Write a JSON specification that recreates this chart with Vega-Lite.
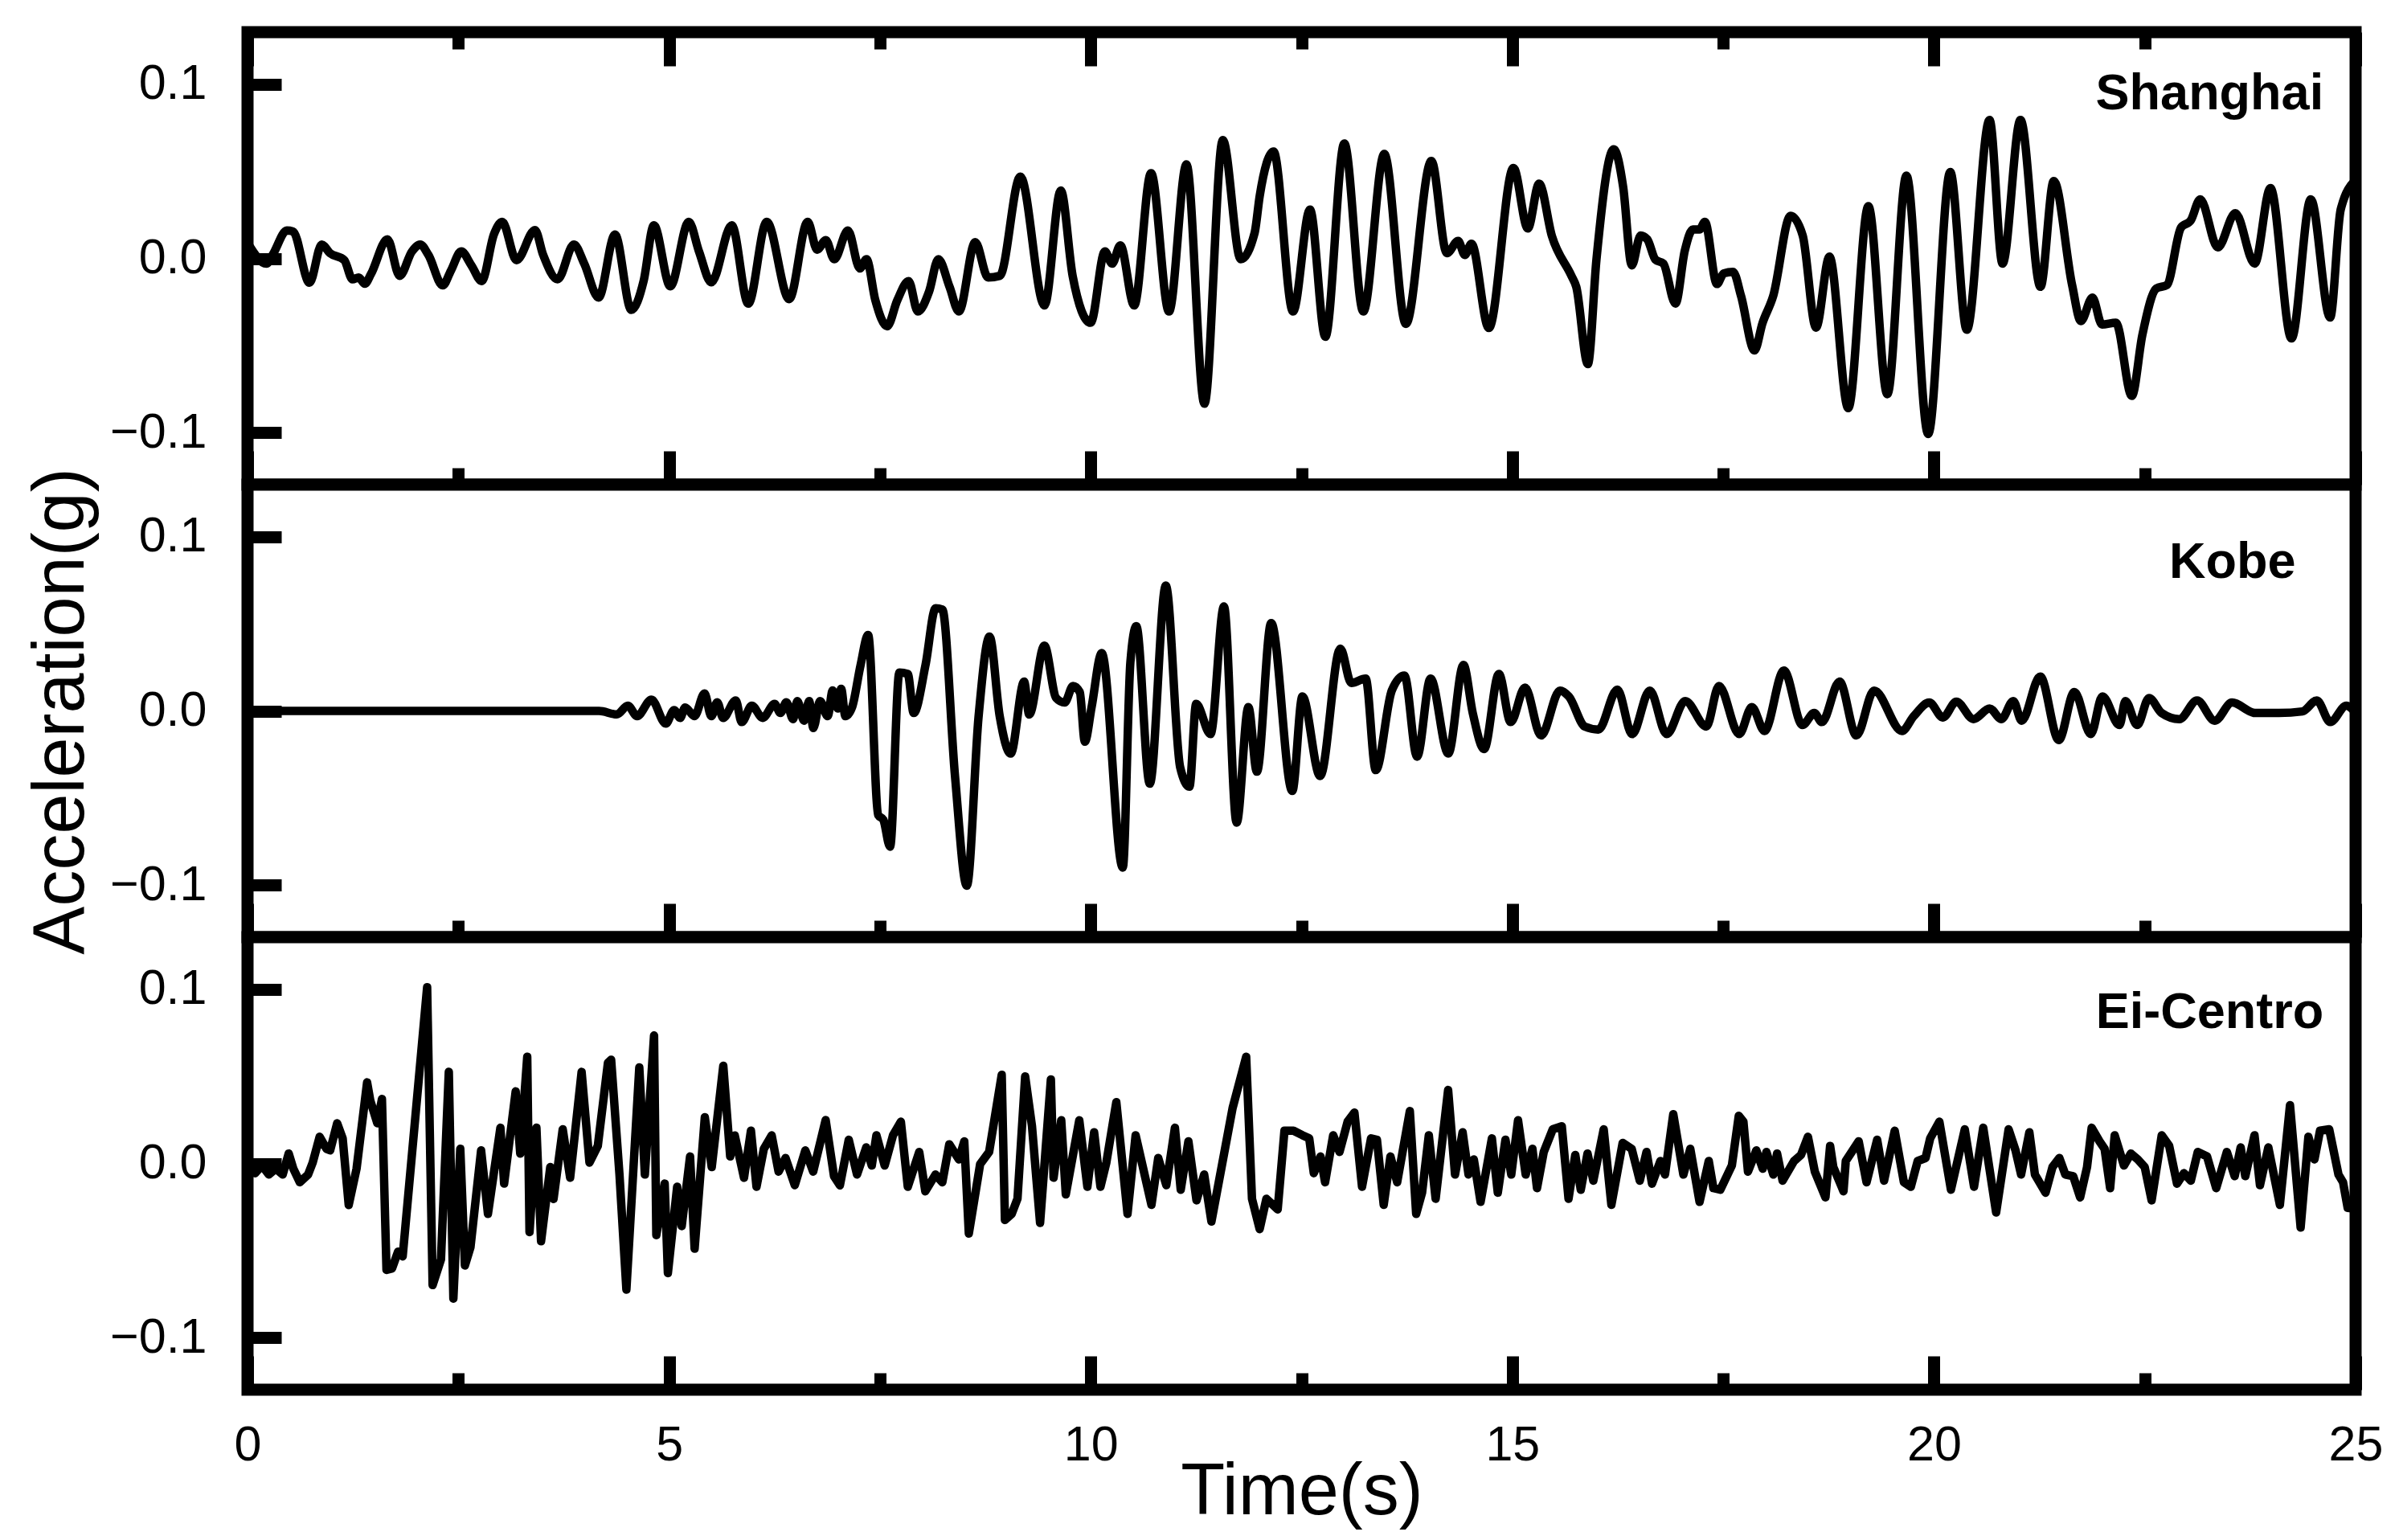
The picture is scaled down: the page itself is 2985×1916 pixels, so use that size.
{
"$schema": "https://vega.github.io/schema/vega-lite/v6.json",
"background": "white",
"padding": {"left": 24, "top": 25, "right": 5, "bottom": 5},
"spacing": 0,
"bounds": "flush",
"config": {
  "view": {"stroke": "black", "strokeWidth": 15, "fill": "white"},
  "font": "Liberation Sans",
  "concat": {"spacing": 0},
  "axis": {"domain": false, "grid": false, "tickColor": "black", "tickWidth": 15, "labelColor": "black", "titleColor": "black", "labelFont": "Liberation Sans", "titleFont": "Liberation Sans", "labelFontSize": 61, "titleFontSize": 90, "titleFontWeight": "normal", "labelFlush": false, "labelOverlap": false}
},
"datasets": {
"shanghai": [
{"t":0,"a":0.009},{"t":0.224,"a":-0.003},{"t":0.297,"a":0.002},{"t":0.467,"a":0.016},{"t":0.54,"a":0.0155},{"t":0.735,"a":-0.014},{"t":0.88,"a":0.008},{"t":0.978,"a":0.003},{"t":1.148,"a":-0.001},{"t":1.245,"a":-0.012},{"t":1.318,"a":-0.011},{"t":1.391,"a":-0.0146},{"t":1.464,"a":-0.009},{"t":1.659,"a":0.011},{"t":1.804,"a":-0.01},{"t":1.95,"a":0.004},{"t":2.048,"a":0.008},{"t":2.145,"a":0.002},{"t":2.315,"a":-0.0155},{"t":2.412,"a":-0.007},{"t":2.534,"a":0.004},{"t":2.655,"a":-0.004},{"t":2.777,"a":-0.013},{"t":2.923,"a":0.014},{"t":3.02,"a":0.021},{"t":3.19,"a":-0.001},{"t":3.409,"a":0.0163},{"t":3.506,"a":0.002},{"t":3.677,"a":-0.012},{"t":3.871,"a":0.008},{"t":3.993,"a":-0.003},{"t":4.163,"a":-0.0225},{"t":4.358,"a":0.0137},{"t":4.552,"a":-0.0296},{"t":4.698,"a":-0.0128},{"t":4.819,"a":0.019},{"t":5.014,"a":-0.016},{"t":5.233,"a":0.021},{"t":5.354,"a":0.004},{"t":5.5,"a":-0.0137},{"t":5.743,"a":0.019},{"t":5.938,"a":-0.026},{"t":6.157,"a":0.021},{"t":6.424,"a":-0.0234},{"t":6.643,"a":0.021},{"t":6.755,"a":0.005},{"t":6.858,"a":0.0105},{"t":6.958,"a":-0.0005},{"t":7.12,"a":0.016},{"t":7.262,"a":-0.0058},{"t":7.341,"a":-0.0005},{"t":7.445,"a":-0.024},{"t":7.585,"a":-0.039},{"t":7.706,"a":-0.024},{"t":7.84,"a":-0.013},{"t":7.949,"a":-0.0305},{"t":8.083,"a":-0.019},{"t":8.192,"a":-0.0005},{"t":8.326,"a":-0.0164},{"t":8.436,"a":-0.0305},{"t":8.63,"a":0.0093},{"t":8.782,"a":-0.011},{"t":8.922,"a":-0.01},{"t":9.165,"a":0.047},{"t":9.451,"a":-0.027},{"t":9.645,"a":0.039},{"t":9.785,"a":-0.01},{"t":9.998,"a":-0.037},{"t":10.168,"a":0.004},{"t":10.253,"a":-0.003},{"t":10.351,"a":0.0075},{"t":10.515,"a":-0.027},{"t":10.715,"a":0.049},{"t":10.928,"a":-0.0305},{"t":11.135,"a":0.054},{"t":11.348,"a":-0.0835},{"t":11.566,"a":0.068},{"t":11.779,"a":-0.0005},{"t":11.943,"a":0.0146},{"t":12.004,"a":0.036},{"t":12.168,"a":0.0614},{"t":12.399,"a":-0.0305},{"t":12.6,"a":0.028},{"t":12.782,"a":-0.045},{"t":13.007,"a":0.066},{"t":13.232,"a":-0.0305},{"t":13.481,"a":0.06},{"t":13.737,"a":-0.0376},{"t":14.04,"a":0.056},{"t":14.223,"a":0.003},{"t":14.357,"a":0.01},{"t":14.436,"a":0.002},{"t":14.515,"a":0.0084},{"t":14.721,"a":-0.04},{"t":15.013,"a":0.052},{"t":15.183,"a":0.0172},{"t":15.317,"a":0.043},{"t":15.469,"a":0.0128},{"t":15.7,"a":-0.01},{"t":15.758,"a":-0.0164},{"t":15.895,"a":-0.0607},{"t":15.997,"a":-0.0007},{"t":16.203,"a":0.0627},{"t":16.314,"a":0.041},{"t":16.416,"a":-0.004},{"t":16.521,"a":0.0132},{"t":16.6,"a":0.011},{"t":16.696,"a":-0.0007},{"t":16.791,"a":-0.003},{"t":16.934,"a":-0.026},{"t":17.045,"a":0.0045},{"t":17.14,"a":0.0166},{"t":17.22,"a":0.0166},{"t":17.283,"a":0.021},{"t":17.426,"a":-0.0147},{"t":17.506,"a":-0.0086},{"t":17.617,"a":-0.0077},{"t":17.712,"a":-0.0216},{"t":17.871,"a":-0.0529},{"t":17.966,"a":-0.0372},{"t":18.093,"a":-0.0216},{"t":18.3,"a":0.0245},{"t":18.443,"a":0.0132},{"t":18.601,"a":-0.0398},{"t":18.76,"a":0.001},{"t":18.983,"a":-0.086},{"t":19.222,"a":0.03},{"t":19.447,"a":-0.078},{"t":19.673,"a":0.0476},{"t":19.931,"a":-0.1009},{"t":20.193,"a":0.0496},{"t":20.389,"a":-0.041},{"t":20.659,"a":0.0795},{"t":20.813,"a":-0.003},{"t":21.026,"a":0.0795},{"t":21.263,"a":-0.0163},{"t":21.421,"a":0.0445},{"t":21.638,"a":-0.0153},{"t":21.742,"a":-0.036},{"t":21.879,"a":-0.0225},{"t":21.992,"a":-0.038},{"t":22.158,"a":-0.037},{"t":22.346,"a":-0.079},{"t":22.471,"a":-0.044},{"t":22.637,"a":-0.0173},{"t":22.762,"a":-0.0153},{"t":22.929,"a":0.0177},{"t":23.045,"a":0.0218},{"t":23.157,"a":0.034},{"t":23.366,"a":0.0063},{"t":23.574,"a":0.026},{"t":23.803,"a":-0.003},{"t":23.99,"a":0.0404},{"t":24.24,"a":-0.046},{"t":24.469,"a":0.034},{"t":24.698,"a":-0.034},{"t":24.823,"a":0.028},{"t":25,"a":0.045}
],
"kobe": [
{"t":0,"a":0},{"t":4.17,"a":0},{"t":4.38,"a":-0.002},{"t":4.51,"a":0.003},{"t":4.62,"a":-0.003},{"t":4.79,"a":0.0065},{"t":4.96,"a":-0.0073},{"t":5.06,"a":0.0005},{"t":5.13,"a":-0.004},{"t":5.19,"a":0.002},{"t":5.3,"a":-0.003},{"t":5.42,"a":0.01},{"t":5.5,"a":-0.003},{"t":5.57,"a":0.005},{"t":5.64,"a":-0.004},{"t":5.79,"a":0.006},{"t":5.86,"a":-0.0064},{"t":5.98,"a":0.003},{"t":6.11,"a":-0.004},{"t":6.25,"a":0.004},{"t":6.32,"a":-0.0012},{"t":6.39,"a":0.005},{"t":6.47,"a":-0.0047},{"t":6.52,"a":0.0057},{"t":6.6,"a":-0.0056},{"t":6.66,"a":0.0057},{"t":6.71,"a":-0.0098},{"t":6.79,"a":0.0057},{"t":6.88,"a":-0.003},{"t":6.94,"a":0.0118},{"t":7.0,"a":0.0014},{"t":7.04,"a":0.0127},{"t":7.09,"a":-0.003},{"t":7.17,"a":0.0022},{"t":7.27,"a":0.0263},{"t":7.36,"a":0.0436},{"t":7.48,"a":-0.0599},{"t":7.54,"a":-0.0625},{"t":7.62,"a":-0.078},{"t":7.73,"a":0.022},{"t":7.83,"a":0.0212},{"t":7.9,"a":-0.0012},{"t":8.04,"a":0.0263},{"t":8.16,"a":0.059},{"t":8.24,"a":0.0582},{"t":8.39,"a":-0.0374},{"t":8.53,"a":-0.1004},{"t":8.67,"a":-0.003},{"t":8.8,"a":0.0427},{"t":8.92,"a":-0.003},{"t":9.05,"a":-0.0245},{"t":9.21,"a":0.0168},{"t":9.27,"a":-0.0021},{"t":9.45,"a":0.0375},{"t":9.59,"a":0.0074},{"t":9.69,"a":0.0048},{"t":9.79,"a":0.0143},{"t":9.87,"a":0.0108},{"t":9.93,"a":-0.0177},{"t":10.01,"a":0.0022},{"t":10.13,"a":0.0332},{"t":10.38,"a":-0.09},{"t":10.47,"a":0.028},{"t":10.54,"a":0.0487},{"t":10.7,"a":-0.0418},{"t":10.89,"a":0.072},{"t":11.06,"a":-0.0323},{"t":11.17,"a":-0.0435},{"t":11.25,"a":0.004},{"t":11.42,"a":-0.0133},{"t":11.58,"a":0.06},{"t":11.73,"a":-0.0642},{"t":11.87,"a":0.0022},{"t":11.97,"a":-0.0349},{"t":12.14,"a":0.0505},{"t":12.39,"a":-0.046},{"t":12.51,"a":0.0083},{"t":12.72,"a":-0.0374},{"t":12.96,"a":0.0358},{"t":13.09,"a":0.016},{"t":13.26,"a":0.0186},{"t":13.38,"a":-0.034},{"t":13.57,"a":0.0117},{"t":13.72,"a":0.0203},{"t":13.87,"a":-0.0263},{"t":14.03,"a":0.0186},{"t":14.24,"a":-0.0245},{"t":14.42,"a":0.0264},{"t":14.53,"a":-0.0012},{"t":14.665,"a":-0.0219},{"t":14.84,"a":0.0212},{"t":14.98,"a":-0.0064},{"t":15.15,"a":0.0134},{"t":15.34,"a":-0.0141},{"t":15.565,"a":0.0117},{"t":15.67,"a":0.0083},{"t":15.86,"a":-0.009},{"t":16.02,"a":-0.0107},{"t":16.245,"a":0.0122},{"t":16.42,"a":-0.0133},{"t":16.63,"a":0.0117},{"t":16.83,"a":-0.0133},{"t":17.05,"a":0.0057},{"t":17.3,"a":-0.009},{"t":17.45,"a":0.0143},{"t":17.69,"a":-0.0133},{"t":17.84,"a":0.0022},{"t":17.99,"a":-0.0115},{"t":18.22,"a":0.0232},{"t":18.44,"a":-0.0081},{"t":18.58,"a":-0.0012},{"t":18.67,"a":-0.0064},{"t":18.88,"a":0.0168},{"t":19.08,"a":-0.0141},{"t":19.29,"a":0.0117},{"t":19.62,"a":-0.0115},{"t":19.76,"a":-0.003},{"t":19.945,"a":0.0048},{"t":20.105,"a":-0.0038},{"t":20.265,"a":0.0053},{"t":20.47,"a":-0.0047},{"t":20.66,"a":0.0014},{"t":20.8,"a":-0.0047},{"t":20.94,"a":0.0057},{"t":21.04,"a":-0.0056},{"t":21.26,"a":0.0198},{"t":21.48,"a":-0.0167},{"t":21.665,"a":0.0109},{"t":21.86,"a":-0.0133},{"t":21.997,"a":0.0083},{"t":22.2,"a":-0.0081},{"t":22.27,"a":0.0057},{"t":22.41,"a":-0.0081},{"t":22.55,"a":0.0074},{"t":22.7,"a":-0.0012},{"t":22.91,"a":-0.0047},{"t":23.12,"a":0.006},{"t":23.33,"a":-0.0056},{"t":23.535,"a":0.0048},{"t":23.81,"a":-0.0012},{"t":24.09,"a":-0.0012},{"t":24.37,"a":-0.0003},{"t":24.54,"a":0.006},{"t":24.7,"a":-0.0064},{"t":24.89,"a":0.003},{"t":25,"a":-0.001}
],
"elcentro": [
{"t":0,"a":-0.004},{"t":0.089,"a":-0.0056},{"t":0.171,"a":-0.0012},{"t":0.253,"a":-0.0064},{"t":0.335,"a":-0.003},{"t":0.417,"a":-0.0064},{"t":0.488,"a":0.0057},{"t":0.543,"a":-0.003},{"t":0.62,"a":-0.0108},{"t":0.718,"a":-0.0064},{"t":0.773,"a":0.0005},{"t":0.855,"a":0.0153},{"t":0.937,"a":0.0084},{"t":0.98,"a":0.0075},{"t":1.063,"a":0.0231},{"t":1.128,"a":0.0144},{"t":1.2,"a":-0.0239},{"t":1.293,"a":-0.003},{"t":1.418,"a":0.0466},{"t":1.456,"a":0.0361},{"t":1.539,"a":0.0231},{"t":1.594,"a":0.037},{"t":1.648,"a":-0.0612},{"t":1.714,"a":-0.0603},{"t":1.785,"a":-0.0507},{"t":1.84,"a":-0.0534},{"t":2.13,"a":0.1013},{"t":2.195,"a":-0.0699},{"t":2.294,"a":-0.0551},{"t":2.387,"a":0.0527},{"t":2.441,"a":-0.0777},{"t":2.523,"a":0.0084},{"t":2.578,"a":-0.0586},{"t":2.644,"a":-0.0481},{"t":2.77,"a":0.0075},{"t":2.851,"a":-0.029},{"t":2.999,"a":0.0205},{"t":3.043,"a":-0.0116},{"t":3.18,"a":0.0414},{"t":3.234,"a":0.0057},{"t":3.317,"a":0.0613},{"t":3.344,"a":-0.0395},{"t":3.426,"a":0.0205},{"t":3.481,"a":-0.0447},{"t":3.59,"a":-0.0021},{"t":3.629,"a":-0.0204},{"t":3.738,"a":0.0196},{"t":3.826,"a":-0.0082},{"t":3.962,"a":0.0526},{"t":4.055,"a":0.0005},{"t":4.154,"a":0.0101},{"t":4.274,"a":0.0578},{"t":4.312,"a":0.0596},{"t":4.411,"a":-0.0064},{"t":4.493,"a":-0.0725},{"t":4.646,"a":0.0552},{"t":4.712,"a":-0.0064},{"t":4.821,"a":0.0735},{"t":4.848,"a":-0.0412},{"t":4.947,"a":-0.0116},{"t":4.985,"a":-0.063},{"t":5.095,"a":-0.0134},{"t":5.149,"a":-0.036},{"t":5.248,"a":0.004},{"t":5.302,"a":-0.049},{"t":5.423,"a":0.0266},{"t":5.505,"a":-0.0021},{"t":5.642,"a":0.0561},{"t":5.724,"a":0.004},{"t":5.778,"a":0.0161},{"t":5.888,"a":-0.0082},{"t":5.97,"a":0.0188},{"t":6.036,"a":-0.0134},{"t":6.123,"a":0.0084},{"t":6.216,"a":0.0161},{"t":6.298,"a":-0.0047},{"t":6.38,"a":0.0031},{"t":6.49,"a":-0.0125},{"t":6.615,"a":0.0075},{"t":6.708,"a":-0.0047},{"t":6.856,"a":0.0249},{"t":6.955,"a":-0.0073},{"t":7.025,"a":-0.0126},{"t":7.13,"a":0.0136},{"t":7.228,"a":-0.0064},{"t":7.337,"a":0.0092},{"t":7.403,"a":-0.0012},{"t":7.458,"a":0.0162},{"t":7.556,"a":-0.0012},{"t":7.655,"a":0.0162},{"t":7.748,"a":0.024},{"t":7.83,"a":-0.0134},{"t":7.966,"a":0.0066},{"t":8.038,"a":-0.016},{"t":8.158,"a":-0.0064},{"t":8.24,"a":-0.0108},{"t":8.322,"a":0.011},{"t":8.436,"a":0.0023},{"t":8.5,"a":0.0127},{"t":8.554,"a":-0.0403},{"t":8.688,"a":-0.0004},{"t":8.795,"a":0.0066},{"t":8.944,"a":0.0509},{"t":8.982,"a":-0.0325},{"t":9.062,"a":-0.029},{"t":9.131,"a":-0.0203},{"t":9.222,"a":0.05},{"t":9.303,"a":0.0214},{"t":9.399,"a":-0.0342},{"t":9.527,"a":0.0483},{"t":9.559,"a":-0.0082},{"t":9.65,"a":0.0248},{"t":9.704,"a":-0.0178},{"t":9.864,"a":0.0248},{"t":9.96,"a":-0.0134},{"t":10.04,"a":0.0179},{"t":10.115,"a":-0.0134},{"t":10.185,"a":0.0005},{"t":10.303,"a":0.0352},{"t":10.436,"a":-0.029},{"t":10.532,"a":0.0162},{"t":10.72,"a":-0.0238},{"t":10.8,"a":0.0031},{"t":10.896,"a":-0.0125},{"t":10.998,"a":0.0205},{"t":11.067,"a":-0.0151},{"t":11.158,"a":0.0127},{"t":11.254,"a":-0.0212},{"t":11.345,"a":-0.0064},{"t":11.431,"a":-0.0334},{"t":11.682,"a":0.0318},{"t":11.843,"a":0.0613},{"t":11.912,"a":-0.0203},{"t":12.003,"a":-0.0377},{"t":12.083,"a":-0.0203},{"t":12.217,"a":-0.0264},{"t":12.297,"a":0.0188},{"t":12.404,"a":0.0188},{"t":12.511,"a":0.0162},{"t":12.591,"a":0.0144},{"t":12.645,"a":-0.0056},{"t":12.725,"a":0.004},{"t":12.779,"a":-0.0108},{"t":12.875,"a":0.0162},{"t":12.95,"a":0.0066},{"t":13.046,"a":0.024},{"t":13.127,"a":0.0292},{"t":13.217,"a":-0.0134},{"t":13.324,"a":0.0144},{"t":13.394,"a":0.0136},{"t":13.474,"a":-0.0238},{"t":13.554,"a":0.004},{"t":13.634,"a":-0.0108},{"t":13.784,"a":0.0301},{"t":13.859,"a":-0.029},{"t":13.929,"a":-0.0168},{"t":14.009,"a":0.0162},{"t":14.09,"a":-0.0203},{"t":14.238,"a":0.0422},{"t":14.32,"a":-0.0064},{"t":14.41,"a":0.0179},{"t":14.48,"a":-0.0064},{"t":14.543,"a":0.0023},{"t":14.623,"a":-0.0221},{"t":14.757,"a":0.0144},{"t":14.827,"a":-0.0168},{"t":14.918,"a":0.0136},{"t":14.987,"a":-0.0064},{"t":15.067,"a":0.0248},{"t":15.158,"a":-0.0064},{"t":15.238,"a":0.0084},{"t":15.292,"a":-0.0142},{"t":15.372,"a":0.0066},{"t":15.479,"a":0.0196},{"t":15.586,"a":0.0214},{"t":15.666,"a":-0.0203},{"t":15.746,"a":0.0049},{"t":15.811,"a":-0.0151},{"t":15.891,"a":0.0057},{"t":15.96,"a":-0.0099},{"t":16.083,"a":0.0196},{"t":16.174,"a":-0.0238},{"t":16.308,"a":0.0118},{"t":16.415,"a":0.0084},{"t":16.511,"a":-0.0099},{"t":16.591,"a":0.0066},{"t":16.656,"a":-0.0116},{"t":16.755,"a":0.0014},{"t":16.81,"a":-0.0064},{"t":16.908,"a":0.0283},{"t":17.028,"a":-0.0064},{"t":17.11,"a":0.0084},{"t":17.22,"a":-0.0221},{"t":17.329,"a":0.0014},{"t":17.384,"a":-0.0142},{"t":17.466,"a":-0.0151},{"t":17.603,"a":-0.0012},{"t":17.685,"a":0.0274},{"t":17.74,"a":0.024},{"t":17.794,"a":-0.0047},{"t":17.893,"a":0.0075},{"t":17.969,"a":-0.003},{"t":18.013,"a":0.0066},{"t":18.095,"a":-0.0064},{"t":18.139,"a":0.0057},{"t":18.205,"a":-0.0099},{"t":18.341,"a":0.0014},{"t":18.423,"a":0.0049},{"t":18.505,"a":0.0153},{"t":18.587,"a":-0.0047},{"t":18.713,"a":-0.0195},{"t":18.768,"a":0.0101},{"t":18.806,"a":-0.0021},{"t":18.927,"a":-0.016},{"t":18.954,"a":0.0014},{"t":19.107,"a":0.0127},{"t":19.2,"a":-0.0108},{"t":19.326,"a":0.0136},{"t":19.408,"a":-0.0099},{"t":19.534,"a":0.0188},{"t":19.643,"a":-0.0108},{"t":19.725,"a":-0.0134},{"t":19.807,"a":0.0014},{"t":19.9,"a":0.0031},{"t":19.955,"a":0.0144},{"t":20.064,"a":0.024},{"t":20.201,"a":-0.0151},{"t":20.365,"a":0.0196},{"t":20.475,"a":-0.0134},{"t":20.584,"a":0.0205},{"t":20.737,"a":-0.0282},{"t":20.885,"a":0.0196},{"t":20.967,"a":0.0075},{"t":21.033,"a":-0.0064},{"t":21.131,"a":0.0179},{"t":21.197,"a":-0.0064},{"t":21.323,"a":-0.0168},{"t":21.405,"a":-0.0021},{"t":21.487,"a":0.0031},{"t":21.558,"a":-0.0064},{"t":21.651,"a":-0.0073},{"t":21.733,"a":-0.0195},{"t":21.815,"a":-0.0021},{"t":21.87,"a":0.0205},{"t":21.963,"a":0.0127},{"t":22.023,"a":0.0084},{"t":22.089,"a":-0.0142},{"t":22.143,"a":0.0162},{"t":22.253,"a":-0.0012},{"t":22.335,"a":0.0057},{"t":22.417,"a":0.0023},{"t":22.499,"a":-0.0021},{"t":22.581,"a":-0.0212},{"t":22.701,"a":0.0162},{"t":22.789,"a":0.0101},{"t":22.882,"a":-0.0116},{"t":22.964,"a":-0.0056},{"t":23.046,"a":-0.0099},{"t":23.128,"a":0.0066},{"t":23.238,"a":0.004},{"t":23.347,"a":-0.0142},{"t":23.473,"a":0.0066},{"t":23.566,"a":-0.0073},{"t":23.637,"a":0.0092},{"t":23.692,"a":-0.0073},{"t":23.801,"a":0.0162},{"t":23.866,"a":-0.0125},{"t":23.965,"a":0.0092},{"t":24.102,"a":-0.0238},{"t":24.222,"a":0.0335},{"t":24.348,"a":-0.0368},{"t":24.44,"a":0.0153},{"t":24.512,"a":0.0023},{"t":24.578,"a":0.0188},{"t":24.687,"a":0.0196},{"t":24.797,"a":-0.0064},{"t":24.851,"a":-0.0108},{"t":24.906,"a":-0.0255},{"t":25,"a":-0.026}
]
},
"vconcat": [
{
  "width": 2623, "height": 563,
  "layer": [
    {
      "data": {"name": "shanghai"},
      "mark": {"type": "line", "color": "black", "strokeWidth": 10.5, "interpolate": "monotone", "clip": true, "strokeJoin": "round", "strokeCap": "round"},
      "encoding": {
        "x": {"field": "t", "type": "quantitative", "scale": {"domain": [0, 25], "nice": false, "zero": false},
              "axis": {"orient": "bottom", "values": [0, 2.5, 5, 7.5, 10, 12.5, 15, 17.5, 20, 22.5, 25], "tickSize": {"condition": {"test": "datum.value % 5 === 0", "value": -42}, "value": -21}, "labels": false, "title": null}},
        "y": {"field": "a", "type": "quantitative", "scale": {"domain": [-0.13, 0.13], "nice": false, "zero": false},
              "axis": {"values": [-0.1, 0, 0.1], "format": ".1f", "tickSize": -42, "labelPadding": 93, "title": null}}
      }
    },
    {
      "data": {"values": [{"name": "Shanghai"}]},
      "mark": {"type": "text", "align": "right", "baseline": "alphabetic", "font": "Liberation Sans", "fontWeight": "bold", "fontSize": 63, "color": "black"},
      "encoding": {
        "text": {"field": "name"},
        "x": {"datum": 24.62, "type": "quantitative", "scale": {"domain": [0, 25], "nice": false, "zero": false},
              "axis": {"orient": "top", "values": [0, 2.5, 5, 7.5, 10, 12.5, 15, 17.5, 20, 22.5, 25], "tickSize": {"condition": {"test": "datum.value % 5 === 0", "value": -42}, "value": -21}, "labels": false, "title": null}},
        "y": {"datum": 0.0857, "type": "quantitative"}
      }
    }
  ],
  "resolve": {"axis": {"x": "independent"}}
},
{
  "width": 2623, "height": 563,
  "layer": [
    {
      "data": {"name": "kobe"},
      "mark": {"type": "line", "color": "black", "strokeWidth": 10.5, "interpolate": "monotone", "clip": true, "strokeJoin": "round", "strokeCap": "round"},
      "encoding": {
        "x": {"field": "t", "type": "quantitative", "scale": {"domain": [0, 25], "nice": false, "zero": false},
              "axis": {"orient": "bottom", "values": [0, 2.5, 5, 7.5, 10, 12.5, 15, 17.5, 20, 22.5, 25], "tickSize": {"condition": {"test": "datum.value % 5 === 0", "value": -42}, "value": -21}, "labels": false, "title": null}},
        "y": {"field": "a", "type": "quantitative", "scale": {"domain": [-0.13, 0.13], "nice": false, "zero": false},
              "axis": {"values": [-0.1, 0, 0.1], "format": ".1f", "tickSize": -42, "labelPadding": 93, "title": "Acceleration(g)", "titlePadding": 14}}
      }
    },
    {
      "data": {"values": [{"name": "Kobe"}]},
      "mark": {"type": "text", "align": "right", "baseline": "alphabetic", "font": "Liberation Sans", "fontWeight": "bold", "fontSize": 63, "color": "black"},
      "encoding": {
        "text": {"field": "name"},
        "x": {"datum": 24.29, "type": "quantitative", "scale": {"domain": [0, 25], "nice": false, "zero": false}},
        "y": {"datum": 0.0762, "type": "quantitative"}
      }
    }
  ]
},
{
  "width": 2623, "height": 563,
  "layer": [
    {
      "data": {"name": "elcentro"},
      "mark": {"type": "line", "color": "black", "strokeWidth": 10.5, "interpolate": "linear", "clip": true, "strokeJoin": "round", "strokeCap": "round"},
      "encoding": {
        "x": {"field": "t", "type": "quantitative", "scale": {"domain": [0, 25], "nice": false, "zero": false},
              "axis": {"orient": "bottom", "values": [0, 2.5, 5, 7.5, 10, 12.5, 15, 17.5, 20, 22.5, 25], "tickSize": {"condition": {"test": "datum.value % 5 === 0", "value": -42}, "value": -21}, "labelExpr": "datum.value % 5 === 0 ? format(datum.value, 'd') : ''", "labelPadding": 81, "title": "Time(s)", "titlePadding": -37}},
        "y": {"field": "a", "type": "quantitative", "scale": {"domain": [-0.13, 0.13], "nice": false, "zero": false},
              "axis": {"values": [-0.1, 0, 0.1], "format": ".1f", "tickSize": -42, "labelPadding": 93, "title": null}}
      }
    },
    {
      "data": {"values": [{"name": "Ei-Centro"}]},
      "mark": {"type": "text", "align": "right", "baseline": "alphabetic", "font": "Liberation Sans", "fontWeight": "bold", "fontSize": 63, "color": "black"},
      "encoding": {
        "text": {"field": "name"},
        "x": {"datum": 24.62, "type": "quantitative", "scale": {"domain": [0, 25], "nice": false, "zero": false}},
        "y": {"datum": 0.0778, "type": "quantitative"}
      }
    }
  ]
}
]
}
